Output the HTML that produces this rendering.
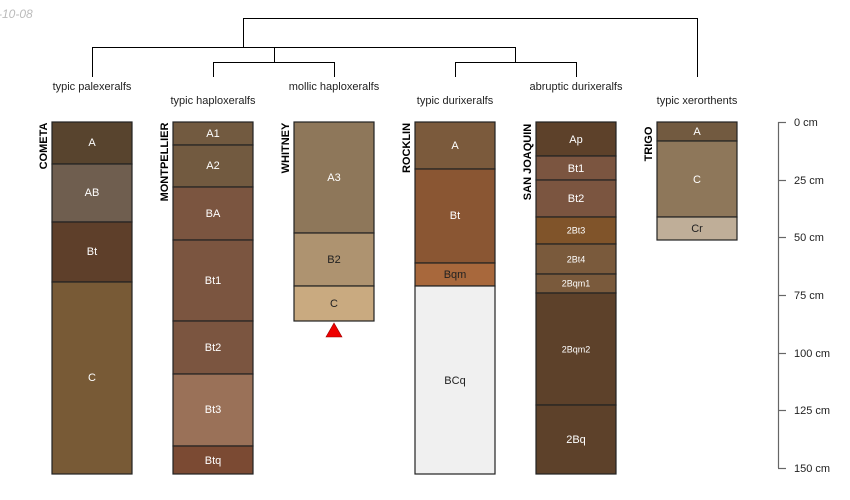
<!DOCTYPE html>
<html><head><meta charset="utf-8"><style>
html,body{margin:0;padding:0;background:#fff;width:850px;height:500px;overflow:hidden}
svg{display:block;font-family:"Liberation Sans",sans-serif}
.h rect{stroke:#222;stroke-width:1.2}
.h text{font-size:11px;fill:#fff;text-anchor:middle;dominant-baseline:middle}
.h text.d{fill:#222}
.h text.s{font-size:9px}
.n{font-size:11px;font-weight:bold;text-anchor:middle}
.lb{font-size:11px;fill:#222;text-anchor:middle}
</style></head><body>
<svg width="850" height="500" viewBox="0 0 850 500">
<text x="-2" y="18" font-size="12" font-style="italic" fill="#bbb">-10-08</text>
<g stroke="#000" stroke-width="1" fill="none">
<path d="M243.5,47 V18.5 H697.5 V77"/>
<path d="M92.5,77 V47.5 H515.5 V62.5"/>
<path d="M274.5,47 V62.5 M213.5,77 V62.5 H334.5 V77"/>
<path d="M455.5,77 V62.5 H576.5 V77"/>
</g>
<g class="lb">
<text x="92" y="90">typic palexeralfs</text>
<text x="213" y="104">typic haploxeralfs</text>
<text x="334" y="90">mollic haploxeralfs</text>
<text x="455" y="104">typic durixeralfs</text>
<text x="576" y="90">abruptic durixeralfs</text>
<text x="697" y="104">typic xerorthents</text>
</g>
<g class="n">
<text transform="translate(47,146) rotate(-90)">COMETA</text>
<text transform="translate(168,162) rotate(-90)">MONTPELLIER</text>
<text transform="translate(289,148) rotate(-90)">WHITNEY</text>
<text transform="translate(410,148) rotate(-90)">ROCKLIN</text>
<text transform="translate(531,162) rotate(-90)">SAN JOAQUIN</text>
<text transform="translate(652,144) rotate(-90)">TRIGO</text>
</g>
<g class="h">
<rect x="52" y="122" width="80" height="42" fill="#58442e"/><text x="92" y="143">A</text>
<rect x="52" y="164" width="80" height="58" fill="#6f5e4f"/><text x="92" y="193">AB</text>
<rect x="52" y="222" width="80" height="60" fill="#5e3f2a"/><text x="92" y="252">Bt</text>
<rect x="52" y="282" width="80" height="192" fill="#785a36"/><text x="92" y="378">C</text>

<rect x="173" y="122" width="80" height="23" fill="#725a40"/><text x="213" y="134">A1</text>
<rect x="173" y="145" width="80" height="42" fill="#725a40"/><text x="213" y="166">A2</text>
<rect x="173" y="187" width="80" height="53" fill="#7b5540"/><text x="213" y="214">BA</text>
<rect x="173" y="240" width="80" height="81" fill="#7b5540"/><text x="213" y="281">Bt1</text>
<rect x="173" y="321" width="80" height="53" fill="#7b5540"/><text x="213" y="348">Bt2</text>
<rect x="173" y="374" width="80" height="72" fill="#9a7158"/><text x="213" y="410">Bt3</text>
<rect x="173" y="446" width="80" height="28" fill="#7b4a33"/><text x="213" y="461">Btq</text>

<rect x="294" y="122" width="80" height="111" fill="#8e775a"/><text x="334" y="178">A3</text>
<rect x="294" y="233" width="80" height="53" fill="#ae9370"/><text class="d" x="334" y="260">B2</text>
<rect x="294" y="286" width="80" height="35" fill="#c9aa80"/><text class="d" x="334" y="304">C</text>

<rect x="415" y="122" width="80" height="47" fill="#7b5a3c"/><text x="455" y="146">A</text>
<rect x="415" y="169" width="80" height="94" fill="#8a5633"/><text x="455" y="216">Bt</text>
<rect x="415" y="263" width="80" height="23" fill="#a8683c"/><text class="d" x="455" y="275">Bqm</text>
<rect x="415" y="286" width="80" height="188" fill="#f0f0f0"/><text class="d" x="455" y="381">BCq</text>

<rect x="536" y="122" width="80" height="34" fill="#5d412a"/><text x="576" y="140">Ap</text>
<rect x="536" y="156" width="80" height="24" fill="#7b5540"/><text x="576" y="169">Bt1</text>
<rect x="536" y="180" width="80" height="37" fill="#7b5540"/><text x="576" y="199">Bt2</text>
<rect x="536" y="217" width="80" height="27" fill="#80542a"/><text class="s" x="576" y="231">2Bt3</text>
<rect x="536" y="244" width="80" height="30" fill="#7a5a3c"/><text class="s" x="576" y="260">2Bt4</text>
<rect x="536" y="274" width="80" height="19" fill="#7a5a3c"/><text class="s" x="576" y="284">2Bqm1</text>
<rect x="536" y="293" width="80" height="112" fill="#5d412a"/><text class="s" x="576" y="350">2Bqm2</text>
<rect x="536" y="405" width="80" height="69" fill="#5d412a"/><text x="576" y="440">2Bq</text>

<rect x="657" y="122" width="80" height="19" fill="#725a40"/><text x="697" y="132">A</text>
<rect x="657" y="141" width="80" height="76" fill="#8e775a"/><text x="697" y="180">C</text>
<rect x="657" y="217" width="80" height="23" fill="#bfae98"/><text class="d" x="697" y="229">Cr</text>
</g>
<polygon points="334,323 326,337 342,337" fill="#e00" stroke="#900" stroke-width="0.6"/>
<g stroke="#666" stroke-width="1.2">
<line x1="778.5" y1="122" x2="778.5" y2="468"/>
<line x1="778" y1="122.5" x2="786" y2="122.5"/>
<line x1="778" y1="180.5" x2="786" y2="180.5"/>
<line x1="778" y1="237.5" x2="786" y2="237.5"/>
<line x1="778" y1="295.5" x2="786" y2="295.5"/>
<line x1="778" y1="353.5" x2="786" y2="353.5"/>
<line x1="778" y1="410.5" x2="786" y2="410.5"/>
<line x1="778" y1="468.5" x2="786" y2="468.5"/>
</g>
<g font-size="11" fill="#222">
<text x="794" y="126">0 cm</text>
<text x="794" y="184">25 cm</text>
<text x="794" y="241">50 cm</text>
<text x="794" y="299">75 cm</text>
<text x="794" y="357">100 cm</text>
<text x="794" y="414">125 cm</text>
<text x="794" y="472">150 cm</text>
</g>
</svg>
</body></html>
